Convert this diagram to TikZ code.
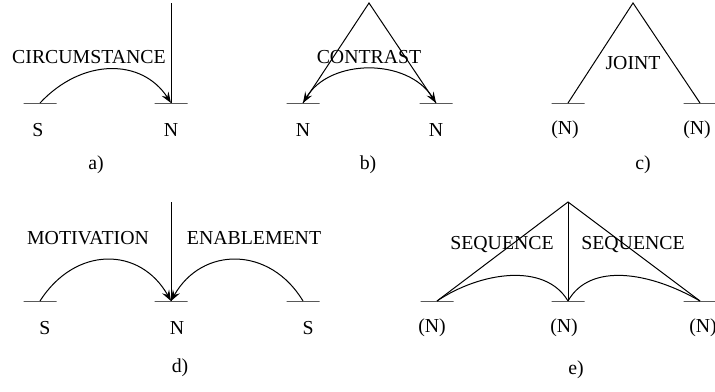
\documentclass[tikz,border=0pt]{standalone}
\usepackage{fontspec}
\setmainfont{Liberation Serif}
\usetikzlibrary{arrows.meta}

\begin{document}
\begin{tikzpicture}[x=0.5pt,y=-0.5pt,line width=0.5pt,
  >={Stealth[length=5.5pt,width=4pt,inset=2pt]},
  every node/.style={font=\fontsize{9.9}{12}\selectfont,inner sep=0pt},
  base/.style={draw,minimum width=16.5pt,minimum height=0pt}]
  \useasboundingbox (0,0) rectangle (715,391);
  % a) circumstance
  \node[base] (aS) at (40,103) {};
  \node[base] (aN) at (171,103) {};
  \coordinate (aTop) at (171,3);
  \draw (aTop) -- (aN.center);
  \draw[->] (aS.center) .. controls (82,58) and (142,58) .. (aN.center);
  \node (aRel) at (89,57) {CIRCUMSTANCE};
  \node (aSl) at (38,130) {S};
  \node (aNl) at (171,130) {N};
  \node (aCap) at (96,165) {a)};
  % b) contrast
  \node[base] (bL) at (303,103) {};
  \node[base] (bR) at (436,103) {};
  \coordinate (bTop) at (369,3);
  \draw (bL.center) -- (bTop) -- (bR.center);
  \draw[<->] (bL.center) .. controls (330,58) and (408,58) .. (bR.center);
  \node (bRel) at (369,57) {CONTRAST};
  \node (bLl) at (303,130) {N};
  \node (bRl) at (436,130) {N};
  \node (bCap) at (368,165) {b)};
  % c) joint
  \node[base] (cL) at (568,103) {};
  \node[base] (cR) at (700,103) {};
  \coordinate (cTop) at (633,3);
  \draw (cL.center) -- (cTop) -- (cR.center);
  \node (cRel) at (633,63) {JOINT};
  \node (cLl) at (565,130) {(N)};
  \node (cRl) at (697,130) {(N)};
  \node (cCap) at (643,165) {c)};
  % d) motivation / enablement
  \node[base] (dL) at (40,301) {};
  \node[base] (dN) at (171,301) {};
  \node[base] (dR) at (303,301) {};
  \coordinate (dTop) at (171,202);
  \draw (dTop) -- (dN.center);
  \draw[->] (dL.center) .. controls (75,246) and (140,246) .. (dN.center);
  \draw[->] (dR.center) .. controls (270,246) and (202,246) .. (dN.center);
  \node (dRelL) at (88,238) {MOTIVATION};
  \node (dRelR) at (254,238) {ENABLEMENT};
  \node (dLl) at (45,328) {S};
  \node (dNl) at (177,328) {N};
  \node (dRl) at (308,328) {S};
  \node (dCap) at (180,368) {d)};
  % e) sequence
  \node[base] (eL) at (437,301) {};
  \node[base] (eM) at (568,301) {};
  \node[base] (eR) at (700,301) {};
  \coordinate (eTop) at (568,202);
  \draw (eL.center) -- (eTop) -- (eR.center);
  \draw (eTop) -- (eM.center);
  \draw (eL.center) .. controls (480,272) and (545,262) .. (eM.center);
  \draw (eM.center) .. controls (590,262) and (650,272) .. (eR.center);
  \node (eRelL) at (502,245) {SEQUENCE};
  \node (eRelR) at (633,245) {SEQUENCE};
  \node (eLl) at (432,328) {(N)};
  \node (eMl) at (564,328) {(N)};
  \node (eRl) at (703,328) {(N)};
  \node (eCap) at (576,370) {e)};
\end{tikzpicture}
\end{document}
